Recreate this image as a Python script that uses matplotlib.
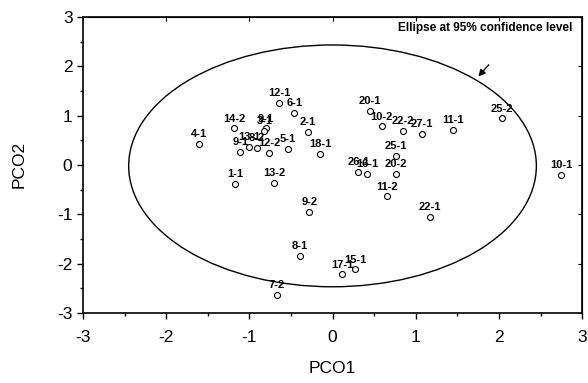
import numpy as np
import matplotlib.pyplot as plt
from matplotlib.patches import Ellipse
from matplotlib.ticker import MultipleLocator

plt.rcParams['font.family'] = ['Liberation Sans', 'DejaVu Sans']
plt.rcParams['axes.unicode_minus'] = False

# punktene lest av figuren
labels = ['4-1', '14-2', '9-1', '3-1', '9-1', '13-1', '8-2', '12-2', '5-1',
          '12-1', '6-1', '2-1', '18-1', '1-1', '13-2', '9-2', '8-1', '7-2',
          '17-1', '15-1', '26-1', '16-1', '25-1', '20-2', '11-2', '22-1',
          '20-1', '10-2', '22-2', '27-1', '11-1', '25-2', '10-1']
pco1 = [-1.61, -1.18, -0.80, -0.82, -1.11, -1.00, -0.91, -0.76, -0.54,
        -0.64, -0.46, -0.30, -0.15, -1.17, -0.70, -0.28, -0.39, -0.67,
        0.12, 0.27, 0.31, 0.42, 0.76, 0.76, 0.66, 1.17,
        0.45, 0.59, 0.85, 1.07, 1.45, 2.04, 2.75]
pco2 = [0.42, 0.74, 0.74, 0.69, 0.26, 0.37, 0.35, 0.24, 0.32,
        1.25, 1.06, 0.66, 0.22, -0.38, -0.36, -0.96, -1.84, -2.64,
        -2.22, -2.12, -0.14, -0.18, 0.19, -0.19, -0.64, -1.06,
        1.10, 0.78, 0.68, 0.63, 0.70, 0.94, -0.20]

ell_senter = (0.0, -0.02)
ell_bredde = 4.9
ell_hoyde = 4.9

fig = plt.figure(figsize=(5.88, 3.83), dpi=100)
ax = fig.add_axes([0.141, 0.183, 0.849, 0.773])

ax.add_patch(Ellipse(ell_senter, ell_bredde, ell_hoyde, fill=False,
                     edgecolor='black', linewidth=1.0))

ax.plot(pco1, pco2, 'o', markerfacecolor='white', markeredgecolor='black',
        markersize=4.3, markeredgewidth=0.8, linestyle='none')

for lab, x, y in zip(labels, pco1, pco2):
    ax.annotate(lab, (x, y), xytext=(0, 3.5), textcoords='offset points',
                ha='center', va='bottom', fontsize=8, fontweight='bold')

ax.text(1.83, 2.78, 'Ellipse at 95% confidence level', ha='center',
        va='center', fontsize=8.5, fontweight='bold')
ax.annotate('', xy=(1.73, 1.75), xytext=(1.90, 2.07),
            arrowprops=dict(arrowstyle='-|>', color='black', lw=1.0,
                            mutation_scale=10))

ax.set_xlim(-3, 3)
ax.set_ylim(-3, 3)
ax.xaxis.set_major_locator(MultipleLocator(1))
ax.yaxis.set_major_locator(MultipleLocator(1))
ax.xaxis.set_minor_locator(MultipleLocator(0.5))
ax.yaxis.set_minor_locator(MultipleLocator(0.5))
ax.tick_params(which='both', direction='out', labelsize=12.5, width=1.0)
ax.tick_params(which='major', length=4)
ax.tick_params(which='minor', length=2.5)
ax.tick_params(axis='x', which='major', pad=8)
# små ticks innover på topp og høyre side
ax.secondary_xaxis('top').tick_params(which='both', direction='in',
                                      labeltop=False, length=3)
ax.secondary_yaxis('right').tick_params(which='both', direction='in',
                                        labelright=False, length=3)
for s in ax.spines.values():
    s.set_linewidth(1.2)

ax.set_xlabel('PCO1', fontsize=12.5, labelpad=12)
ax.set_ylabel('PCO2', fontsize=12.5, labelpad=22)

fig.savefig('out.png', dpi=100)
